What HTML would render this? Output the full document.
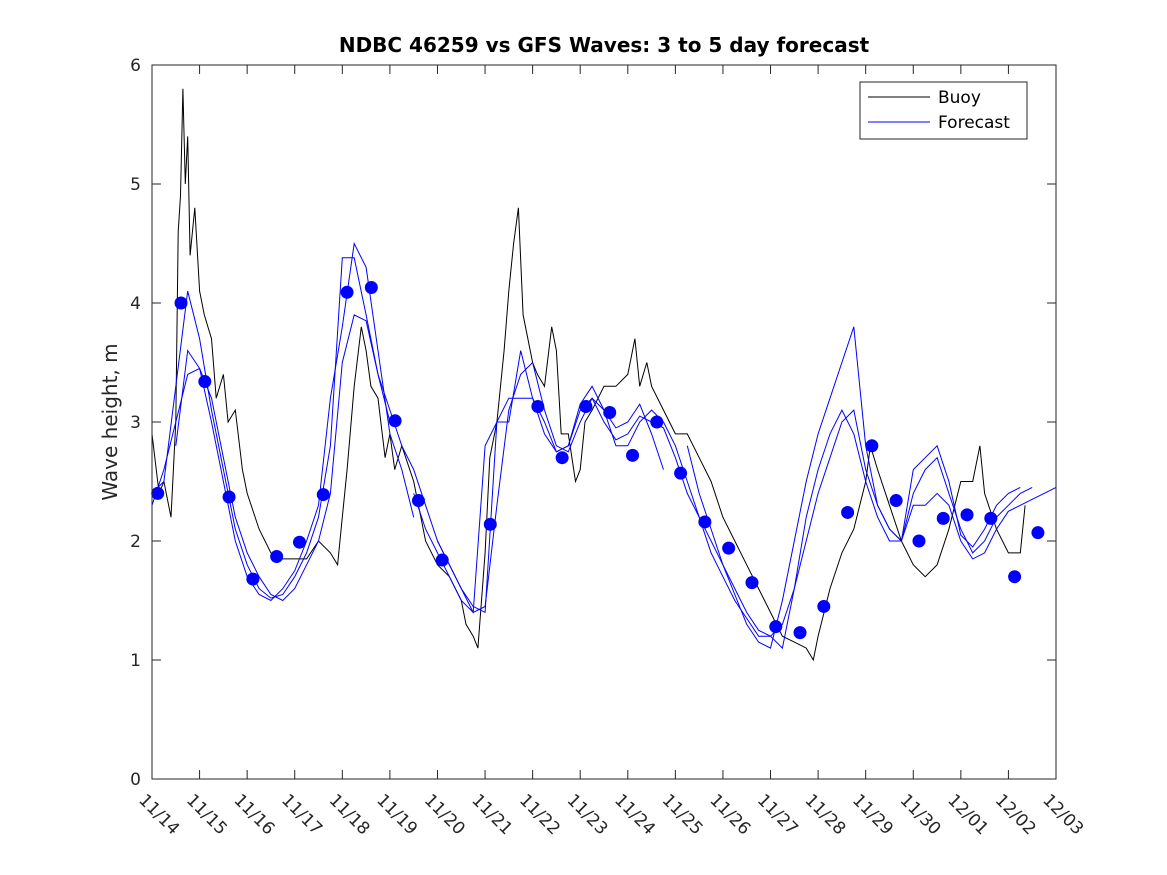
<!DOCTYPE html>
<html><head><meta charset="utf-8"><style>
body{margin:0;background:#fff;}
svg{display:block;font-family:"DejaVu Sans","Liberation Sans",sans-serif;}
</style></head><body>
<svg id="chart" width="1167" height="875"></svg>
<script>
const xTickLabels=["11/14","11/15","11/16","11/17","11/18","11/19","11/20","11/21","11/22","11/23","11/24","11/25","11/26","11/27","11/28","11/29","11/30","12/01","12/02","12/03"];
const yTickLabels=[0,1,2,3,4,5,6];
const buoyDays=[0,0.15,0.25,0.4,0.5,0.55,0.6,0.65,0.7,0.75,0.8,0.9,1.0,1.1,1.25,1.35,1.5,1.6,1.75,1.9,2.0,2.25,2.5,2.75,3.0,3.25,3.5,3.75,3.9,4.0,4.1,4.25,4.4,4.5,4.6,4.75,4.9,5.0,5.1,5.25,5.5,5.75,6.0,6.25,6.5,6.6,6.75,6.85,7.0,7.1,7.25,7.4,7.5,7.6,7.7,7.8,8.0,8.1,8.25,8.4,8.5,8.6,8.75,8.9,9.0,9.1,9.25,9.5,9.75,10.0,10.15,10.25,10.4,10.5,10.75,11.0,11.25,11.5,11.75,12.0,12.25,12.5,12.75,13.0,13.25,13.5,13.75,13.9,14.0,14.25,14.5,14.75,15.0,15.1,15.25,15.5,15.75,16.0,16.25,16.5,16.75,17.0,17.25,17.4,17.5,17.75,18.0,18.25,18.35];
const buoyValues=[2.9,2.4,2.5,2.2,3.0,4.6,4.9,5.8,5.0,5.4,4.4,4.8,4.1,3.9,3.7,3.2,3.4,3.0,3.1,2.6,2.4,2.1,1.9,1.85,1.85,1.85,2.0,1.9,1.8,2.2,2.6,3.3,3.8,3.6,3.3,3.2,2.7,2.9,2.6,2.8,2.5,2.0,1.8,1.7,1.5,1.3,1.2,1.1,1.9,2.7,3.0,3.6,4.1,4.5,4.8,3.9,3.5,3.4,3.3,3.8,3.6,2.9,2.9,2.5,2.6,3.0,3.1,3.3,3.3,3.4,3.7,3.3,3.5,3.3,3.1,2.9,2.9,2.7,2.5,2.2,2.0,1.8,1.6,1.4,1.2,1.15,1.1,1.0,1.2,1.6,1.9,2.1,2.5,2.8,2.6,2.3,2.0,1.8,1.7,1.8,2.1,2.5,2.5,2.8,2.4,2.1,1.9,1.9,2.3];
const fcDays=[0,0.25,0.5,0.75,1,1.25,1.5,1.75,2,2.25,2.5,2.75,3,3.25,3.5,3.75,4,4.25,4.5,4.75,5,5.25,5.5,5.75,6,6.25,6.5,6.75,7,7.25,7.5,7.75,8,8.25,8.5,8.75,9,9.25,9.5,9.75,10,10.25,10.5,10.75,11,11.25,11.5,11.75,12,12.25,12.5,12.75,13,13.25,13.5,13.75,14,14.25,14.5,14.75,15,15.25,15.5,15.75,16,16.25,16.5,16.75,17,17.25,17.5,17.75,18,18.25,18.5,18.75,19];
const fcRunA=[2.4,2.5,3.3,4.1,3.7,3.1,2.6,2.1,1.8,1.6,1.52,1.55,1.7,1.9,2.2,2.8,4.38,4.38,3.9,3.4,3.0,null,2.4,2.1,1.9,1.7,1.5,1.4,2.8,3.0,3.2,3.2,3.2,3.0,2.75,2.8,3.1,3.2,3.0,2.85,2.9,3.05,3.0,2.95,2.7,2.4,2.2,1.9,1.7,1.5,1.35,1.2,1.2,1.3,1.6,2.0,2.4,2.7,3.0,3.1,2.6,2.3,2.1,2.0,2.4,2.6,2.7,2.4,2.1,1.9,2.0,2.2,2.3,2.4,2.45,null,null];
const fcRunB=[2.3,2.6,3.0,3.4,3.45,3.2,2.7,2.2,1.9,1.7,1.55,1.5,1.6,1.8,2.0,2.4,3.5,3.9,3.85,3.4,3.1,2.8,2.6,2.3,2.0,1.8,1.6,1.45,1.4,3.0,3.0,3.6,3.2,2.9,2.75,2.8,3.15,3.3,3.1,2.8,2.8,3.0,3.1,3.0,2.8,2.5,2.2,2.0,1.8,1.6,1.4,1.25,1.2,1.1,1.6,2.2,2.6,2.9,3.1,2.9,2.5,2.2,2.0,2.0,2.3,2.3,2.4,2.3,2.0,1.85,1.9,2.1,2.25,2.3,2.35,2.4,2.45];
const fcRunC=[null,null,2.8,3.6,3.45,3.0,2.5,2.0,1.7,1.55,1.5,1.6,1.75,2.0,2.3,3.2,3.8,4.5,4.3,3.6,2.9,2.6,2.2,null,2.0,1.8,1.6,1.4,1.45,2.3,3.1,3.4,3.5,3.1,2.8,2.75,3.0,3.2,3.1,2.95,3.0,3.15,2.9,2.6,null,2.8,2.4,2.1,1.8,1.55,1.3,1.15,1.1,1.5,2.0,2.5,2.9,3.2,3.5,3.8,2.8,2.3,2.1,2.0,2.6,2.7,2.8,2.5,2.05,1.95,2.1,2.3,2.4,2.45,null,null,null];
const dotDays=[0.12,0.61,1.11,1.62,2.12,2.62,3.1,3.6,4.1,4.61,5.11,5.6,6.1,7.11,8.11,8.62,9.12,9.62,10.1,10.61,11.11,11.62,12.12,12.61,13.11,13.62,14.12,14.62,15.13,15.64,16.12,16.63,17.13,17.63,18.13,18.62];
const dotValues=[2.4,4.0,3.34,2.37,1.68,1.87,1.99,2.39,4.09,4.13,3.01,2.34,1.84,2.14,3.13,2.70,3.13,3.08,2.72,3.0,2.57,2.16,1.94,1.65,1.28,1.23,1.45,2.24,2.80,2.34,2.0,2.19,2.22,2.19,1.70,2.07];

const NS="http://www.w3.org/2000/svg";
const svg=document.getElementById('chart');
const L=152,R=1056,T=65,B=779;
const xs=d=>L+(R-L)*d/19;
const ys=v=>B-(B-T)*v/6;
function mk(tag,attrs,parent){const e=document.createElementNS(NS,tag);for(const k in attrs)e.setAttribute(k,attrs[k]);(parent||svg).appendChild(e);return e;}

const plotBg=mk('rect',{x:L,y:T,width:R-L,height:B-T,fill:'#fff',stroke:'none'});



// ticks
xTickLabels.forEach((lab,i)=>{
  const x=xs(i);
  const t1=mk('line',{x1:x,y1:B,x2:x,y2:B-9,stroke:'#262626'});
  
  
  const t2=mk('line',{x1:x,y1:T,x2:x,y2:T+9,stroke:'#262626'});
  
  
  const tx=mk('text',{x:0,y:0,transform:`translate(${x-14},${B+22}) rotate(45)`,'font-size':17,fill:'#262626'});
  tx.textContent=lab;
  
  
});
yTickLabels.forEach(v=>{
  const y=ys(v);
  const t1=mk('line',{x1:L,y1:y,x2:L+9,y2:y,stroke:'#262626'});
  
  
  const t2=mk('line',{x1:R,y1:y,x2:R-9,y2:y,stroke:'#262626'});
  
  
  const tx=mk('text',{x:L-11,y:y+6,'text-anchor':'end','font-size':17,fill:'#262626'});
  tx.textContent=v;
  
  
});

function pathFrom(days,vals){let d='',pen=false;days.forEach((dd,i)=>{const v=vals[i];if(v==null){pen=false;return;}d+=(pen?'L':'M')+xs(dd).toFixed(1)+' '+ys(v).toFixed(1)+' ';pen=true;});return d;}

const buoy=mk('path',{d:pathFrom(buoyDays,buoyValues),fill:'none',stroke:'#000','stroke-width':1});


[fcRunA,fcRunB,fcRunC].forEach((run,i)=>{
  const p=mk('path',{d:pathFrom(fcDays,run),fill:'none',stroke:'#0000ff','stroke-width':1});
  
  
});
dotDays.forEach((d,i)=>{
  const c=mk('circle',{cx:xs(d),cy:ys(dotValues[i]),r:6.5,fill:'#0000ff'});
  
  
});

const frame=mk('rect',{x:L,y:T,width:R-L,height:B-T,fill:'none',stroke:'#262626'});



const title=mk('text',{x:(L+R)/2,y:52,'text-anchor':'middle','font-size':20,'font-weight':'bold',fill:'#000'});
title.textContent='NDBC 46259 vs GFS Waves: 3 to 5 day forecast';


const yl=mk('text',{x:0,y:0,transform:`translate(117,422) rotate(-90)`,'text-anchor':'middle','font-size':20,fill:'#262626'});
yl.textContent='Wave height, m';



const lg=mk('g',{});


mk('rect',{x:860,y:82,width:167,height:57,fill:'#fff',stroke:'#262626'},lg);
const l1=mk('line',{x1:868,y1:97,x2:930,y2:97,stroke:'#000'},lg);


const t1=mk('text',{x:938,y:103,'font-size':17,fill:'#000'},lg);
t1.textContent='Buoy';


const l2=mk('line',{x1:868,y1:122,x2:930,y2:122,stroke:'#0000ff'},lg);


const t2=mk('text',{x:938,y:128,'font-size':17,fill:'#000'},lg);
t2.textContent='Forecast';


</script>
</body></html>
